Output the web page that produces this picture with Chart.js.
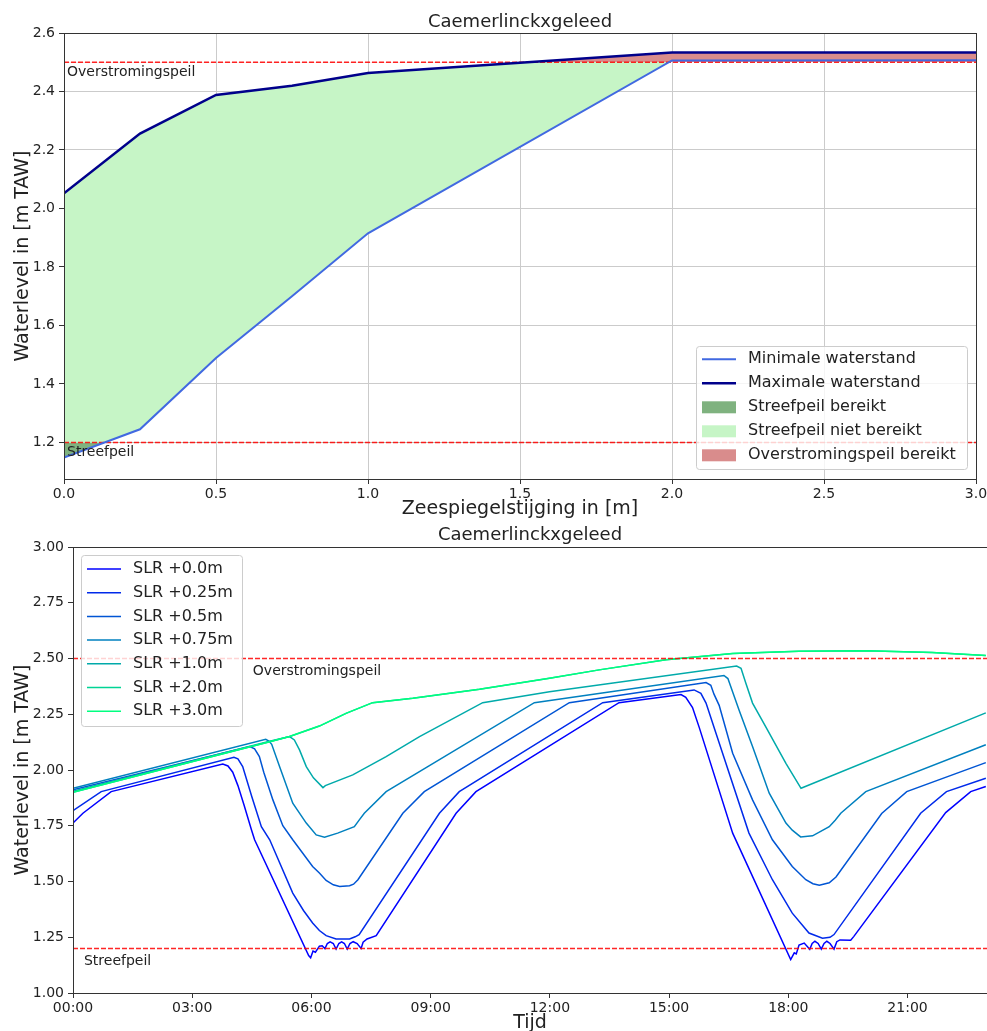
<!DOCTYPE html>
<html>
<head>
    <meta charset="utf-8">
    <title>Caemerlinckxgeleed</title>
    <script src="https://cdn.jsdelivr.net/npm/chart.js@4.4.1/dist/chart.umd.min.js"></script>
    <style>
        body { margin: 0; background-color: white; }
        #wrap { position: relative; width: 987px; height: 1031px; overflow: hidden; }
        #wrap canvas { position: absolute; left: 0; }
    </style>
</head>
<body>
<div id="wrap">
    <canvas id="slrChart" width="987" height="520" style="top:0px"></canvas>
    <canvas id="tijdChart" width="987" height="514" style="top:520px"></canvas>
</div>
<script>
    // ---------- bovenste grafiek: waterstand per zeespiegelstijging ----------
    const slrStappen = [0, 0.25, 0.5, 0.75, 1.0, 2.0, 3.0];
    const minWaterstand = [1.148, 1.245, 1.489, 1.700, 1.915, 2.506, 2.507];
    const maxWaterstand = [2.052, 2.256, 2.388, 2.420, 2.463, 2.533, 2.533];
    const streefpeil = 1.2;
    const overstromingspeil = 2.5;
    const slrXTicks = [0, 0.5, 1.0, 1.5, 2.0, 2.5, 3.0];
    const slrYTicks = [1.2, 1.4, 1.6, 1.8, 2.0, 2.2, 2.4, 2.6];

    // ---------- onderste grafiek: waterstand over de dag (uren) ----------
    const uurTicks = [0, 3, 6, 9, 12, 15, 18, 21];
    const niveauTicks = [1.0, 1.25, 1.5, 1.75, 2.0, 2.25, 2.5, 2.75, 3.0];
    const slrLabels = ['SLR +0.0m', 'SLR +0.25m', 'SLR +0.5m', 'SLR +0.75m', 'SLR +1.0m', 'SLR +2.0m', 'SLR +3.0m'];

    const uren_slr000 = [0, 0.25, 0.96, 3.77, 3.9, 4.02, 4.15, 4.3, 4.49, 4.57, 5.93, 5.98, 6.04, 6.1, 6.2, 6.27, 6.34, 6.4, 6.47, 6.55,
        6.62, 6.69, 6.76, 6.83, 6.9, 6.97, 7.05, 7.15, 7.25, 7.3, 7.4, 7.63, 9.64, 10.14, 13.74, 15.3, 15.42, 15.59, 15.76, 16.6,
        18.06, 18.15, 18.2, 18.27, 18.4, 18.54, 18.6, 18.67, 18.75, 18.83, 18.9, 18.97, 19.05, 19.15, 19.22, 19.3, 19.57, 19.65, 21.96, 22.59, 22.97];
    const niveau_slr000 = [1.762, 1.806, 1.903, 2.027, 2.018, 1.99, 1.93, 1.845, 1.732, 1.687, 1.168, 1.158, 1.188, 1.183, 1.21, 1.212, 1.199, 1.222, 1.229, 1.222,
        1.197, 1.222, 1.229, 1.222, 1.197, 1.222, 1.23, 1.222, 1.20, 1.228, 1.242, 1.257, 1.806, 1.903, 2.302, 2.338, 2.326, 2.28, 2.19, 1.717,
        1.15, 1.18, 1.175, 1.215, 1.224, 1.196, 1.222, 1.232, 1.222, 1.197, 1.222, 1.232, 1.222, 1.197, 1.23, 1.238, 1.237, 1.254, 1.809, 1.903, 1.926];

    const uren_slr025 = [0, 0.71, 4.05, 4.15, 4.27, 4.5, 4.74, 4.95, 5.53, 5.8, 6.03, 6.2, 6.37, 6.62, 6.96, 7.1, 7.2, 9.22, 9.72, 13.33,
        15.63, 15.8, 15.93, 16.18, 17.01, 17.6, 18.1, 18.52, 18.86, 19.05, 19.15, 21.33, 21.98, 22.97];
    const niveau_slr025 = [1.818, 1.903, 2.057, 2.05, 2.015, 1.88, 1.746, 1.687, 1.448, 1.37, 1.314, 1.28, 1.257, 1.242, 1.242, 1.252, 1.262, 1.806, 1.903, 2.302,
        2.359, 2.344, 2.30, 2.165, 1.717, 1.508, 1.358, 1.269, 1.246, 1.25, 1.262, 1.806, 1.903, 1.963];

    const uren_slr050 = [0, 4.45, 4.57, 4.69, 4.8, 5.03, 5.28, 5.53, 6.03, 6.2, 6.37, 6.55, 6.71, 6.96, 7.06, 7.17, 8.3, 8.84, 12.49, 15.93,
        16.05, 16.13, 16.26, 16.6, 17.1, 17.6, 18.1, 18.44, 18.62, 18.78, 19.03, 19.2, 20.35, 20.98, 22.97];
    const niveau_slr050 = [1.911, 2.105, 2.095, 2.06, 1.99, 1.866, 1.75, 1.687, 1.567, 1.538, 1.505, 1.485, 1.478, 1.481, 1.488, 1.508, 1.806, 1.903, 2.302, 2.392,
        2.38, 2.34, 2.29, 2.075, 1.866, 1.687, 1.567, 1.508, 1.49, 1.483, 1.494, 1.52, 1.805, 1.903, 2.033];

    const uren_slr075 = [0, 4.85, 4.93, 5.0, 5.2, 5.53, 5.87, 6.12, 6.33, 6.66, 7.08, 7.2, 7.33, 7.88, 11.61,
        16.38, 16.48, 16.6, 16.76, 17.1, 17.52, 17.94, 18.1, 18.31, 18.61, 19.03, 19.18, 19.32, 19.95, 22.97];
    const niveau_slr075 = [1.918, 2.138, 2.13, 2.115, 2.015, 1.851, 1.762, 1.709, 1.699, 1.717, 1.746, 1.775, 1.806, 1.903, 2.302,
        2.424, 2.41, 2.35, 2.269, 2.105, 1.896, 1.762, 1.73, 1.70, 1.705, 1.746, 1.775, 1.806, 1.903, 2.113];

    const uren_slr100 = [0, 4.95, 5.45, 5.57, 5.7, 5.87, 6.05, 6.29, 6.35, 7.04, 7.88, 8.72, 10.31, 11.99, 16.7, 16.81, 16.93, 17.1, 17.43, 17.94, 18.32, 22.97];
    const niveau_slr100 = [1.905, 2.129, 2.15, 2.135, 2.09, 2.015, 1.965, 1.921, 1.93, 1.978, 2.06, 2.15, 2.302, 2.351, 2.466, 2.456, 2.39, 2.30, 2.194, 2.03, 1.918, 2.256];

    const uren_slr300 = [0, 4.95, 5.45, 6.2, 6.87, 7.54, 8.55, 10.23, 11.99, 13.24, 14.92, 16.6, 18.27, 19.95, 21.62, 22.97];
    const niveau_slr300 = [1.90, 2.127, 2.15, 2.197, 2.254, 2.302, 2.322, 2.362, 2.411, 2.449, 2.494, 2.522, 2.533, 2.535, 2.527, 2.513];
    // +2.0m valt in de figuur samen met +3.0m
    const uren_slr200 = uren_slr300;
    const niveau_slr200 = niveau_slr300;

    const slrKleuren = ['rgb(0,0,255)', 'rgb(0,42,234)', 'rgb(0,85,212)', 'rgb(0,128,191)', 'rgb(0,170,170)', 'rgb(0,212,149)', 'rgb(0,255,128)'];

    // ---------- algemene instellingen ----------
    const FONT = '"DejaVu Sans", "Liberation Sans", sans-serif';
    Chart.defaults.font.family = FONT;
    Chart.defaults.color = '#222';

    function punten(xs, ys) {
        return xs.map((x, i) => ({ x: x, y: ys[i] }));
    }

    function vastTicks(lijst) {
        return function (scale) { scale.ticks = lijst.map(v => ({ value: v })); };
    }

    function kader(ctx, area) {
        ctx.save();
        ctx.strokeStyle = '#333';
        ctx.lineWidth = 1;
        ctx.strokeRect(Math.round(area.left) + 0.5, Math.round(area.top) + 0.5,
            Math.round(area.right - area.left), Math.round(area.bottom - area.top));
        ctx.restore();
    }

    function afgerondeRechthoek(ctx, x, y, w, h, r) {
        ctx.beginPath();
        ctx.moveTo(x + r, y);
        ctx.arcTo(x + w, y, x + w, y + h, r);
        ctx.arcTo(x + w, y + h, x, y + h, r);
        ctx.arcTo(x, y + h, x, y, r);
        ctx.arcTo(x, y, x + w, y, r);
        ctx.closePath();
    }

    // legende in matplotlib-stijl, binnen het grafiekvlak
    function tekenLegende(ctx, chart, x, y, w, h, rijStart, rijStap) {
        const items = chart.data.datasets.filter(d => d.legendeType);
        ctx.save();
        afgerondeRechthoek(ctx, x + 0.5, y + 0.5, w, h, 3);
        ctx.fillStyle = 'rgba(255,255,255,0.8)';
        ctx.fill();
        ctx.strokeStyle = '#cccccc';
        ctx.lineWidth = 1;
        ctx.stroke();
        ctx.font = '16px ' + FONT;
        ctx.textBaseline = 'middle';
        items.forEach((d, i) => {
            const cy = y + rijStart + i * rijStap;
            if (d.legendeType === 'vlak') {
                ctx.fillStyle = d.legendeKleur;
                ctx.fillRect(x + 6, cy - 6, 34, 12);
            } else {
                ctx.strokeStyle = d.borderColor;
                ctx.lineWidth = d.borderWidth;
                ctx.beginPath();
                ctx.moveTo(x + 6, cy);
                ctx.lineTo(x + 40, cy);
                ctx.stroke();
            }
            ctx.fillStyle = '#222';
            ctx.fillText(d.label, x + 52, cy);
        });
        ctx.restore();
    }

    function peilTekst(ctx, chart, tekst, xWaarde, yWaarde, dy) {
        const xs = chart.scales.x, ys = chart.scales.y;
        ctx.save();
        ctx.font = '14px ' + FONT;
        ctx.fillStyle = '#222';
        ctx.textBaseline = 'middle';
        ctx.fillText(tekst, xs.getPixelForValue(xWaarde) + 3, ys.getPixelForValue(yWaarde) + dy);
        ctx.restore();
    }

    const ROOD_STREEP = 'rgba(255,0,0,0.85)';
    const DONKERGROEN = '#7fb27f';
    const LICHTGROEN = '#c6f5c6';
    const ROOD_VLAK = '#d98c8c';

    // ---------- grafiek 1 ----------
    new Chart(document.getElementById('slrChart').getContext('2d'), {
        type: 'line',
        data: {
            datasets: [
                { label: 'Minimale waterstand', data: punten(slrStappen, minWaterstand), borderColor: '#4169e1', borderWidth: 2, pointRadius: 0, fill: false, order: 0, legendeType: 'lijn' },
                { label: 'Maximale waterstand', data: punten(slrStappen, maxWaterstand), borderColor: '#00008b', borderWidth: 2.5, pointRadius: 0, fill: false, order: 0, legendeType: 'lijn' },
                { label: 'Streefpeil', data: punten(slrStappen, slrStappen.map(() => streefpeil)), borderColor: ROOD_STREEP, borderWidth: 1.5, borderDash: [5, 2], pointRadius: 0, fill: false, order: 1 },
                { label: 'Overstromingspeil', data: punten(slrStappen, slrStappen.map(() => overstromingspeil)), borderColor: ROOD_STREEP, borderWidth: 1.5, borderDash: [5, 2], pointRadius: 0, fill: false, order: 1 },
                { label: 'Streefpeil bereikt', data: punten(slrStappen, minWaterstand), borderWidth: 0, borderColor: 'rgba(0,0,0,0)', pointRadius: 0,
                  fill: { target: 2, above: 'rgba(0,0,0,0)', below: DONKERGROEN }, order: 3, legendeType: 'vlak', legendeKleur: DONKERGROEN },
                { label: 'Streefpeil niet bereikt', data: punten(slrStappen, minWaterstand), borderWidth: 0, borderColor: 'rgba(0,0,0,0)', pointRadius: 0,
                  fill: { target: 1, above: LICHTGROEN, below: LICHTGROEN }, order: 4, legendeType: 'vlak', legendeKleur: LICHTGROEN },
                { label: 'Overstromingspeil bereikt', data: punten(slrStappen, maxWaterstand), borderWidth: 0, borderColor: 'rgba(0,0,0,0)', pointRadius: 0,
                  fill: { target: 3, above: ROOD_VLAK, below: 'rgba(0,0,0,0)' }, order: 2, legendeType: 'vlak', legendeKleur: ROOD_VLAK }
            ]
        },
        options: {
            responsive: false,
            animation: false,
            devicePixelRatio: 1,
            layout: { padding: { left: 0, right: 11, top: 0, bottom: 0 } },
            scales: {
                x: {
                    type: 'linear', min: 0, max: 3,
                    afterBuildTicks: vastTicks(slrXTicks),
                    afterFit: s => { s.height = 41; s.paddingLeft = 0; s.paddingRight = 0; },
                    ticks: { font: { size: 14 }, padding: 2, maxRotation: 0, callback: v => v.toFixed(1) },
                    grid: { color: '#cbcbcb', lineWidth: 1, tickColor: '#333', tickLength: 5 },
                    border: { display: false },
                    title: { display: true, text: 'Zeespiegelstijging in [m]', font: { size: 19 }, padding: { top: 0, bottom: 0 } }
                },
                y: {
                    min: 1.075, max: 2.6,
                    afterBuildTicks: vastTicks(slrYTicks),
                    afterFit: s => { s.width = 64; s.paddingTop = 0; s.paddingBottom = 0; },
                    ticks: { font: { size: 14 }, padding: 4, callback: v => v.toFixed(1) },
                    grid: { color: '#cbcbcb', lineWidth: 1, tickColor: '#333', tickLength: 5 },
                    border: { display: false },
                    title: { display: true, text: 'Waterlevel in [m TAW]', font: { size: 19 }, padding: { top: 12, bottom: 0 } }
                }
            },
            plugins: {
                legend: { display: false },
                tooltip: { enabled: false },
                title: { display: true, text: 'Caemerlinckxgeleed', fullSize: false, font: { size: 18, weight: 'normal', lineHeight: 1.15 }, color: '#222', padding: { top: 12, bottom: 0.3 } }
            }
        },
        plugins: [{
            id: 'extraTop',
            afterDatasetsDraw(chart) {
                const ctx = chart.ctx, a = chart.chartArea;
                kader(ctx, a);
                peilTekst(ctx, chart, 'Overstromingspeil', 0, overstromingspeil, 10);
                peilTekst(ctx, chart, 'Streefpeil', 0, streefpeil, 9.5);
                tekenLegende(ctx, chart, a.right - 9 - 271, a.bottom - 10 - 123, 271, 123, 13.3, 24);
            }
        }]
    });

    // ---------- grafiek 2 ----------
    const tijdReeksen = [
        [uren_slr000, niveau_slr000], [uren_slr025, niveau_slr025], [uren_slr050, niveau_slr050],
        [uren_slr075, niveau_slr075], [uren_slr100, niveau_slr100], [uren_slr200, niveau_slr200], [uren_slr300, niveau_slr300]
    ];
    const uurMax = 23;

    const tijdDatasets = tijdReeksen.map((r, i) => ({
        label: slrLabels[i], data: punten(r[0], r[1]), borderColor: slrKleuren[i], borderWidth: 1.5,
        pointRadius: 0, fill: false, order: 6 - i, legendeType: 'lijn'
    }));
    tijdDatasets.push(
        { label: 'Streefpeil', data: punten([0, uurMax], [streefpeil, streefpeil]), borderColor: ROOD_STREEP, borderWidth: 1.5, borderDash: [5, 2], pointRadius: 0, fill: false, order: -1 },
        { label: 'Overstromingspeil', data: punten([0, uurMax], [overstromingspeil, overstromingspeil]), borderColor: ROOD_STREEP, borderWidth: 1.5, borderDash: [5, 2], pointRadius: 0, fill: false, order: -1 }
    );

    new Chart(document.getElementById('tijdChart').getContext('2d'), {
        type: 'line',
        data: { datasets: tijdDatasets },
        options: {
            responsive: false,
            animation: false,
            devicePixelRatio: 1,
            layout: { padding: 0 },
            scales: {
                x: {
                    type: 'linear', min: 0, max: uurMax,
                    afterBuildTicks: vastTicks(uurTicks),
                    afterFit: s => { s.height = 41; s.paddingLeft = 0; s.paddingRight = 0; },
                    ticks: { font: { size: 14 }, padding: 2, maxRotation: 0, callback: v => String(v).padStart(2, '0') + ':00' },
                    grid: { drawOnChartArea: false, tickColor: '#333', tickLength: 5 },
                    border: { display: false },
                    title: { display: true, text: 'Tijd', font: { size: 19 }, padding: { top: 0, bottom: 0 } }
                },
                y: {
                    min: 1.0, max: 3.0,
                    afterBuildTicks: vastTicks(niveauTicks),
                    afterFit: s => { s.width = 73; s.paddingTop = 0; s.paddingBottom = 0; },
                    ticks: { font: { size: 14 }, padding: 4, callback: v => v.toFixed(2) },
                    grid: { drawOnChartArea: false, tickColor: '#333', tickLength: 5 },
                    border: { display: false },
                    title: { display: true, text: 'Waterlevel in [m TAW]', font: { size: 19 }, padding: { top: 12, bottom: 0 } }
                }
            },
            plugins: {
                legend: { display: false },
                tooltip: { enabled: false },
                title: { display: true, text: 'Caemerlinckxgeleed', fullSize: false, font: { size: 18, weight: 'normal' }, color: '#222', padding: { top: 5, bottom: 0.4 } }
            }
        },
        plugins: [{
            id: 'extraTijd',
            afterDatasetsDraw(chart) {
                const ctx = chart.ctx, a = chart.chartArea;
                kader(ctx, a);
                peilTekst(ctx, chart, 'Overstromingspeil', 4.45, overstromingspeil, 13);
                peilTekst(ctx, chart, 'Streefpeil', 0.2, streefpeil, 12.5);
                tekenLegende(ctx, chart, a.left + 8, a.top + 8, 161, 171, 14, 23.7);
            }
        }]
    });
</script>
</body>
</html>
